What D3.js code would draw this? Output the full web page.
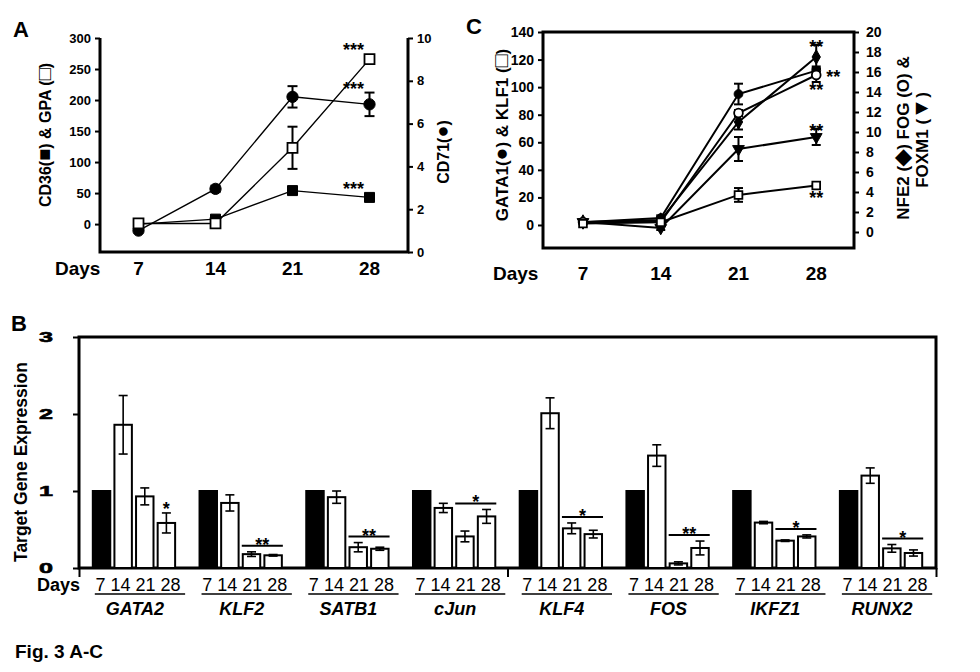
<!DOCTYPE html>
<html>
<head>
<meta charset="utf-8">
<script src="https://cdn.jsdelivr.net/npm/d3@7"></script>
<style>
  body { margin: 0; background: #fff; }
  svg { display: block; font-family: "Liberation Sans", Arial, sans-serif; }
  text { fill: #000; }
</style>
</head>
<body>
<svg id="fig" width="980" height="672"></svg>
<script>
// ---- data ----
const days = [7, 14, 21, 28];

// panel A (left axis: CD36, GPA; right axis: CD71)
const cd36 = [0, 8, 54, 43];
const cd36Err = [0, 3, 3, 3];
const gpa = [1, 1, 123, 266];
const gpaErr = [0, 0, 34, 0];
const cd71 = [1.0, 2.95, 7.25, 6.9];
const cd71Err = [0, 0.15, 0.5, 0.55];
const aLeftTicks = [0, 50, 100, 150, 200, 250, 300];
const aRightTicks = [0, 2, 4, 6, 8, 10];

// panel C (left axis: GATA1, KLF1; right axis: NFE2, FOG, FOXM1)
const gata1 = [2, 5, 95, 112];
const gata1Err = [0, 2, 7.5, 3];
const klf1 = [1, 2, 21.8, 28.6];
const klf1Err = [0, 1, 5, 0.8];
const nfe2 = [1, 1.2, 11.0, 17.5];
const nfe2Err = [0, 0.3, 0.75, 1.2];
const fog = [1, 1.0, 11.9, 15.7];
const fogErr = [0, 0.2, 0.3, 0.7];
const foxm1 = [1, 0.4, 8.3, 9.5];
const foxm1Err = [0, 0.2, 1.2, 0.8];
const cLeftTicks = [0, 20, 40, 60, 80, 100, 120, 140];
const cRightTicks = [0, 2, 4, 6, 8, 10, 12, 14, 16, 18, 20];

// panel B (fold change vs day 7)
const genes = ['GATA2', 'KLF2', 'SATB1', 'cJun', 'KLF4', 'FOS', 'IKFZ1', 'RUNX2'];
const barMeans = [
  [1, 1.86, 0.93, 0.585],
  [1, 0.845, 0.18, 0.165],
  [1, 0.92, 0.27, 0.25],
  [1, 0.78, 0.41, 0.67],
  [1, 2.01, 0.515, 0.44],
  [1, 1.46, 0.06, 0.26],
  [1, 0.59, 0.355, 0.41],
  [1, 1.2, 0.255, 0.195]
];
const barErrs = [
  [0, 0.38, 0.11, 0.13],
  [0, 0.105, 0.03, 0.01],
  [0, 0.08, 0.06, 0.02],
  [0, 0.06, 0.07, 0.09],
  [0, 0.2, 0.07, 0.05],
  [0, 0.14, 0.02, 0.09],
  [0, 0.015, 0.01, 0.02],
  [0, 0.1, 0.05, 0.04]
];
const barSig = ['*', '**', '**', '*', '*', '**', '*', '*'];
const barSigSpan = [false, true, true, true, true, true, true, true];
const bTicks = [0, 1, 2, 3];

const svg = d3.select('#fig');

function symbolPath(kind, size) {
  const t = { circle: d3.symbolCircle, square: d3.symbolSquare, diamond: d3.symbolDiamond, tri: d3.symbolTriangle }[kind];
  return d3.symbol().type(t).size(size)();
}

function styleTicks(g, fs) {
  g.selectAll('.tick line').attr('stroke', '#000').attr('stroke-width', 2);
  g.selectAll('.tick text').attr('fill', '#000').attr('font-weight', 'bold').attr('font-size', fs);
  g.select('.domain').remove();
}

// rotated axis title; parts in [text, isSymbol] pairs so glyphs can be enlarged
function axisTitle(g, cx, cy, fs, parts) {
  const t = g.append('text').attr('transform', `translate(${cx},${cy}) rotate(-90)`)
    .attr('text-anchor', 'middle').attr('font-size', fs).attr('font-weight', 'bold');
  parts.forEach(([s, sym]) => t.append('tspan').attr('font-size', sym ? fs * 1.25 : null).text(s));
}

// draws lines, error bars, markers and significance marks for one line panel
function drawSeries(g, x, series, opt) {
  series.forEach(s => {
    const y = s.scale;
    const pts = days.map((d, i) => ({ d, v: s.values[i], e: s.errs[i] }));
    g.append('path').datum(pts)
      .attr('fill', 'none').attr('stroke', '#000').attr('stroke-width', opt.lineW)
      .attr('d', d3.line().x(p => x(p.d)).y(p => y(p.v)));
    const eb = g.append('g').attr('stroke', '#000').attr('stroke-width', opt.errW);
    pts.filter(p => p.e > 0).forEach(p => {
      const cx = x(p.d);
      eb.append('line').attr('x1', cx).attr('x2', cx).attr('y1', y(p.v - p.e)).attr('y2', y(p.v + p.e));
      [p.v - p.e, p.v + p.e].forEach(v => {
        eb.append('line').attr('x1', cx - opt.cap).attr('x2', cx + opt.cap).attr('y1', y(v)).attr('y2', y(v));
      });
    });
  });
  series.forEach(s => {
    const y = s.scale;
    g.append('g').selectAll('path').data(days).join('path')
      .attr('d', symbolPath(s.marker, opt.symSize))
      .attr('transform', (d, i) => `translate(${x(d)},${y(s.values[i])})` + (s.marker === 'tri' ? ' rotate(180)' : ''))
      .attr('fill', s.filled ? '#000' : '#fff')
      .attr('stroke', '#000').attr('stroke-width', s.filled ? 1 : 1.8);
  });
  series.filter(s => s.sig).forEach(s => {
    const y = s.scale, i = days.length - 1;
    const v = s.values[i], e = s.errs[i];
    const px = x(days[i]);
    const top = Math.min(y(v + e), y(v) - opt.half);
    const bot = Math.max(y(v - e), y(v) + opt.half);
    let cx = px + opt.sigDx, cy;
    if (s.sigPlace === 'above') cy = top - opt.sigGap;
    else if (s.sigPlace === 'below') cy = bot + opt.sigGap + 2;
    else { cx = px + 17; cy = y(v) + 2; }
    g.append('text').attr('x', cx).attr('y', cy + opt.sigFs * 0.57)
      .attr('text-anchor', 'middle').attr('font-size', opt.sigFs).attr('font-weight', 'bold')
      .text(s.sig);
  });
}

// ---------------- panel A ----------------
{
  const g = svg.append('g');
  const x = d3.scaleLinear().domain([3.5, 31.5]).range([100, 408]);
  const yL = d3.scaleLinear().domain([-45, 300]).range([252, 38]);
  const yR = d3.scaleLinear().domain([0, 10]).range([252, 38]);

  g.append('g').attr('transform', 'translate(100,0)')
    .call(d3.axisLeft(yL).tickValues(aLeftTicks).tickSize(5).tickPadding(4).tickSizeOuter(0))
    .call(a => styleTicks(a, 13));
  g.append('g').attr('transform', 'translate(408,0)')
    .call(d3.axisRight(yR).tickValues(aRightTicks).tickSize(5).tickPadding(4).tickSizeOuter(0))
    .call(a => styleTicks(a, 13));
  g.append('path').attr('d', 'M100,38V252H408V38')
    .attr('fill', 'none').attr('stroke', '#000').attr('stroke-width', 3);

  g.append('g').selectAll('text').data(days).join('text')
    .attr('x', d => x(d)).attr('y', 275).attr('text-anchor', 'middle')
    .attr('font-size', 19).attr('font-weight', 'bold').text(d => d);
  g.append('text').attr('x', 55).attr('y', 275).attr('font-size', 19).attr('font-weight', 'bold').text('Days');
  g.append('text').attr('x', 13).attr('y', 37).attr('font-size', 22).attr('font-weight', 'bold').text('A');

  axisTitle(g, 51, 135, 16, [['CD36(', 0], ['\u25A0', 1], [') & GPA (', 0], ['\u25A1', 1], [')', 0]]);
  axisTitle(g, 449, 152, 16, [['CD71(', 0], ['\u25CF', 1], [')', 0]]);

  drawSeries(g, x, [
    { values: cd71, errs: cd71Err, scale: yR, marker: 'circle', filled: true, sig: '***', sigPlace: 'above' },
    { values: cd36, errs: cd36Err, scale: yL, marker: 'square', filled: true, sig: '***', sigPlace: 'above' },
    { values: gpa, errs: gpaErr, scale: yL, marker: 'square', filled: false, sig: '***', sigPlace: 'above' }
  ], { lineW: 1.4, errW: 2, cap: 5, symSize: 100, half: 5, sigFs: 18, sigGap: 8, sigDx: -16 });
}

// ---------------- panel C ----------------
{
  const g = svg.append('g');
  const x = d3.scaleLinear().domain([3.4, 31.4]).range([543, 854]);
  const yL = d3.scaleLinear().domain([-16.7, 140]).range([248, 32]);
  const yR = d3.scaleLinear().domain([-1.6, 20]).range([248, 32]);

  g.append('g').attr('transform', 'translate(543,0)')
    .call(d3.axisLeft(yL).tickValues(cLeftTicks).tickSize(5).tickPadding(4).tickSizeOuter(0))
    .call(a => styleTicks(a, 14));
  g.append('g').attr('transform', 'translate(854,0)')
    .call(d3.axisRight(yR).tickValues(cRightTicks).tickSize(5).tickPadding(7).tickSizeOuter(0))
    .call(a => styleTicks(a, 14));
  g.append('rect').attr('x', 543).attr('y', 32).attr('width', 311).attr('height', 216)
    .attr('fill', 'none').attr('stroke', '#000').attr('stroke-width', 3);

  g.append('g').selectAll('text').data(days).join('text')
    .attr('x', d => x(d)).attr('y', 280).attr('text-anchor', 'middle')
    .attr('font-size', 19).attr('font-weight', 'bold').text(d => d);
  g.append('text').attr('x', 493).attr('y', 280).attr('font-size', 19).attr('font-weight', 'bold').text('Days');
  g.append('text').attr('x', 466).attr('y', 34).attr('font-size', 22).attr('font-weight', 'bold').text('C');

  axisTitle(g, 508, 135, 17, [['GATA1(', 0], ['\u25CF', 1], [') & KLF1 (', 0], ['\u25A1', 1], [')', 0]]);
  axisTitle(g, 909, 138, 17, [['NFE2 (', 0], ['\u25C6', 1], [') FOG (O) &', 0]]);
  axisTitle(g, 928, 140, 17, [['FOXM1 (', 0], ['\u25BC', 1], [')', 0]]);

  drawSeries(g, x, [
    { values: gata1, errs: gata1Err, scale: yL, marker: 'circle', filled: true, sig: '**', sigPlace: 'right' },
    { values: foxm1, errs: foxm1Err, scale: yR, marker: 'tri', filled: true, sig: '**', sigPlace: 'above' },
    { values: nfe2, errs: nfe2Err, scale: yR, marker: 'diamond', filled: true, sig: '**', sigPlace: 'above' },
    { values: fog, errs: fogErr, scale: yR, marker: 'circle', filled: false, sig: '**', sigPlace: 'below' },
    { values: klf1, errs: klf1Err, scale: yL, marker: 'square', filled: false, sig: '**', sigPlace: 'below' }
  ], { lineW: 2, errW: 2, cap: 4.5, symSize: 60, half: 4, sigFs: 18, sigGap: 2, sigDx: 0 });
}

// ---------------- panel B ----------------
{
  const g = svg.append('g');
  const x = d3.scaleBand().domain(genes).range([79, 936]).paddingInner(0.21).paddingOuter(0.12);
  const xi = d3.scaleBand().domain(days).range([0, x.bandwidth()]).paddingInner(0.1);
  const y = d3.scaleLinear().domain([0, 3]).range([568, 337]);
  const edge = d3.scaleLinear().domain([0, 1]).range([79, 936]);

  const ya = g.append('g').attr('transform', 'translate(79,0)')
    .call(d3.axisLeft(y).tickValues(bTicks).tickFormat('').tickSize(6).tickSizeOuter(0));
  ya.selectAll('.tick line').attr('stroke-width', 2);
  ya.select('.domain').remove();
  // wide, heavy tick numerals as in the original
  g.append('g').selectAll('text').data(bTicks).join('text')
    .attr('x', 39).attr('y', d => y(d) + 5)
    .attr('textLength', 14).attr('lengthAdjust', 'spacingAndGlyphs')
    .attr('font-size', 15).attr('font-weight', 'bold')
    .attr('stroke', '#000').attr('stroke-width', 0.6).text(d => d);

  g.append('g').attr('transform', 'translate(0,568)')
    .call(d3.axisBottom(edge).tickValues([0, 0.5, 1]).tickSize(9).tickFormat('').tickSizeOuter(0))
    .call(a => { a.select('.domain').remove(); a.selectAll('.tick line').attr('stroke-width', 2); });
  g.append('rect').attr('x', 79).attr('y', 337).attr('width', 857).attr('height', 231)
    .attr('fill', 'none').attr('stroke', '#000').attr('stroke-width', 3);

  const grp = g.append('g').selectAll('g').data(genes).join('g')
    .attr('transform', d => `translate(${x(d)},0)`);

  grp.each(function (gene, gi) {
    const gg = d3.select(this);
    const bars = days.map((d, i) => ({ d, v: barMeans[gi][i], e: barErrs[gi][i], i }));
    gg.selectAll('rect').data(bars).join('rect')
      .attr('x', b => xi(b.d) + 1).attr('width', xi.bandwidth() - 2)
      .attr('y', b => y(b.v)).attr('height', b => y(0) - y(b.v))
      .attr('fill', b => b.i === 0 ? '#000' : '#fff')
      .attr('stroke', '#000').attr('stroke-width', 2);
    bars.filter(b => b.e > 0).forEach(b => {
      const cx = xi(b.d) + xi.bandwidth() / 2;
      const eg = gg.append('g').attr('stroke', '#000').attr('stroke-width', 1.6);
      eg.append('line').attr('x1', cx).attr('x2', cx).attr('y1', y(b.v - b.e)).attr('y2', y(b.v + b.e));
      [b.v - b.e, b.v + b.e].forEach(v => eg.append('line')
        .attr('x1', cx - 4.5).attr('x2', cx + 4.5).attr('y1', y(v)).attr('y2', y(v)));
    });
    // significance
    const tops = bars.slice(2).map(b => y(b.v + b.e));
    if (barSigSpan[gi]) {
      const ly = Math.min(...tops) - 6;
      gg.append('line').attr('x1', xi(21)).attr('x2', xi(28) + xi.bandwidth())
        .attr('y1', ly).attr('y2', ly).attr('stroke', '#000').attr('stroke-width', 2);
      gg.append('text').attr('x', (xi(21) + xi(28) + xi.bandwidth()) / 2).attr('y', ly + 5)
        .attr('text-anchor', 'middle').attr('font-size', 18).attr('font-weight', 'bold').text(barSig[gi]);
    } else {
      gg.append('text').attr('x', xi(28) + xi.bandwidth() / 2).attr('y', tops[1] + 2)
        .attr('text-anchor', 'middle').attr('font-size', 18).attr('font-weight', 'bold').text(barSig[gi]);
    }
    // day labels, underline and gene name
    gg.append('text').attr('x', x.bandwidth() / 2 + 4).attr('y', 591)
      .attr('text-anchor', 'middle').attr('font-size', 18).text(days.join(' '));
    gg.append('line').attr('x1', 3).attr('x2', x.bandwidth() + 9).attr('y1', 594).attr('y2', 594)
      .attr('stroke', '#000').attr('stroke-width', 1.6);
    gg.append('text').attr('x', x.bandwidth() / 2 + 1).attr('y', 615).attr('text-anchor', 'middle')
      .attr('font-size', 18).attr('font-weight', 'bold').attr('font-style', 'italic').text(gene);
  });

  g.append('text').attr('x', 37).attr('y', 591).attr('font-size', 18).attr('font-weight', 'bold').text('Days');
  g.append('text').attr('transform', 'translate(27,462) rotate(-90)').attr('text-anchor', 'middle')
    .attr('font-size', 17.5).attr('font-weight', 'bold').text('Target Gene Expression');
  g.append('text').attr('x', 11).attr('y', 331).attr('font-size', 22).attr('font-weight', 'bold').text('B');
}

svg.append('text').attr('x', 15).attr('y', 658).attr('font-size', 19).attr('font-weight', 'bold').text('Fig. 3 A-C');
</script>
</body>
</html>
